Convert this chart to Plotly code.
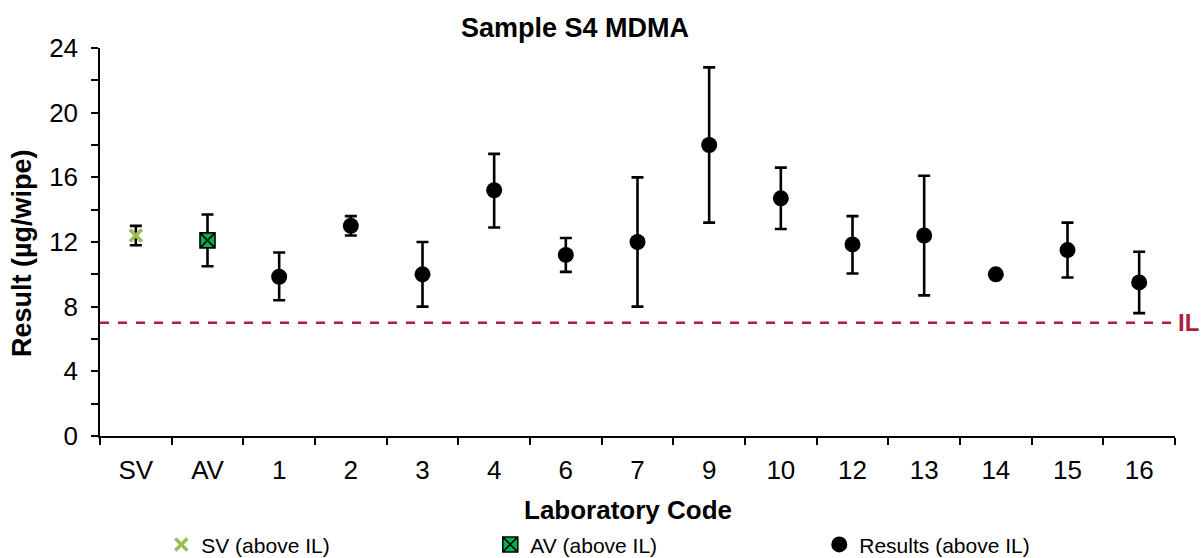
import plotly.graph_objects as go

# Laboratory codes along the x axis
categories = ["SV", "AV", "1", "2", "3", "4", "6", "7", "9", "10", "12", "13", "14", "15", "16"]

# Spiked value (SV) and assigned value (AV)
sv_label = ["SV"]
sv_value = [12.4]
sv_upper = [13.0]
sv_lower = [11.8]

av_label = ["AV"]
av_value = [12.1]
av_upper = [13.7]
av_lower = [10.5]

# Participant results with their uncertainty bounds (µg/wipe)
lab_codes = ["1", "2", "3", "4", "6", "7", "9", "10", "12", "13", "14", "15", "16"]
lab_value = [9.85, 13.0, 10.0, 15.2, 11.2, 12.0, 18.0, 14.7, 11.85, 12.4, 10.0, 11.5, 9.5]
lab_upper = [11.35, 13.6, 12.0, 17.45, 12.25, 16.0, 22.8, 16.6, 13.6, 16.1, 10.0, 13.2, 11.4]
lab_lower = [8.4, 12.4, 8.0, 12.9, 10.15, 8.0, 13.2, 12.8, 10.05, 8.7, 10.0, 9.8, 7.6]

# Identification limit
il_value = 7

y_ticks = [0, 4, 8, 12, 16, 20, 24]

FONT = "Liberation Sans, Arial, sans-serif"
IL_COLOR = "#B31D3C"


def err(values, upper, lower, color="black"):
    return dict(
        type="data",
        symmetric=False,
        array=[u - v for u, v in zip(upper, values)],
        arrayminus=[v - l for v, l in zip(values, lower)],
        color=color,
        thickness=2.6,
        width=6,
    )


fig = go.Figure()

fig.add_trace(go.Scatter(
    x=sv_label, y=sv_value, mode="markers", name="SV (above IL)",
    marker=dict(symbol="x-thin", size=12, color="#9BBB59",
                line=dict(color="#9BBB59", width=3.5)),
    error_y=err(sv_value, sv_upper, sv_lower),
))

fig.add_trace(go.Scatter(
    x=av_label, y=av_value, mode="markers", name="AV (above IL)",
    marker=dict(symbol="square-x", size=15, color="#00B050",
                line=dict(color="black", width=1.6)),
    error_y=err(av_value, av_upper, av_lower),
))

fig.add_trace(go.Scatter(
    x=lab_codes, y=lab_value, mode="markers", name="Results (above IL)",
    marker=dict(symbol="circle", size=16, color="black"),
    error_y=err(lab_value, lab_upper, lab_lower),
))

# Identification limit line and label
fig.add_shape(type="line", xref="paper", x0=0, x1=1, yref="y", y0=il_value, y1=il_value,
              line=dict(color=IL_COLOR, width=2.5, dash="dash"))
fig.add_annotation(xref="paper", x=1, xanchor="left", xshift=1, yref="y", y=il_value,
                   text="<b>IL</b>", showarrow=False,
                   font=dict(family=FONT, size=24, color=IL_COLOR))

# Axis titles
fig.add_annotation(xref="paper", yref="paper", x=0.4912, y=-0.1907,
                   xanchor="center", yanchor="middle", showarrow=False,
                   text="<b>Laboratory Code</b>",
                   font=dict(family=FONT, size=26, color="black"))
fig.add_annotation(xref="paper", yref="paper", x=-0.0726, y=0.4716,
                   xanchor="center", yanchor="middle", showarrow=False, textangle=-90,
                   text="<b>Result (µg/wipe)</b>",
                   font=dict(family=FONT, size=27, color="black"))

fig.update_layout(
    width=1201, height=558,
    margin=dict(l=100, r=26, t=48, b=122, autoexpand=False),
    paper_bgcolor="white", plot_bgcolor="white",
    font=dict(family=FONT, color="black"),
    title=dict(text="<b>Sample S4 MDMA</b>", x=575 / 1201, xanchor="center",
               y=1 - 28 / 558, yanchor="middle", xref="container", yref="container",
               font=dict(family=FONT, size=27, color="black")),
    showlegend=True,
    legend=dict(orientation="h", x=0.057, xanchor="left", y=-0.2804, yanchor="middle",
                entrywidth=284, entrywidthmode="pixels",
                font=dict(family=FONT, size=21, color="black"),
                bgcolor="rgba(0,0,0,0)", itemclick=False),
)

fig.update_xaxes(
    type="category", categoryorder="array", categoryarray=categories,
    range=[-0.5, len(categories) - 0.5], automargin=False,
    showline=True, linecolor="black", linewidth=1.5,
    ticks="outside", tickson="boundaries", ticklen=7, tickwidth=1.5, tickcolor="black",
    ticklabelstandoff=10,
    tickfont=dict(family=FONT, size=26, color="black"),
    showgrid=False, zeroline=False,
)

fig.update_yaxes(
    range=[0, 24], tickvals=y_ticks, automargin=False,
    showline=True, linecolor="black", linewidth=1.5,
    ticks="outside", ticklen=7, tickwidth=1.5, tickcolor="black",
    ticklabelstandoff=8,
    minor=dict(dtick=2, ticks="outside", ticklen=7, tickwidth=1.5, tickcolor="black", showgrid=False),
    tickfont=dict(family=FONT, size=26, color="black"),
    showgrid=False, zeroline=False,
)

fig.write_html("out.html")
